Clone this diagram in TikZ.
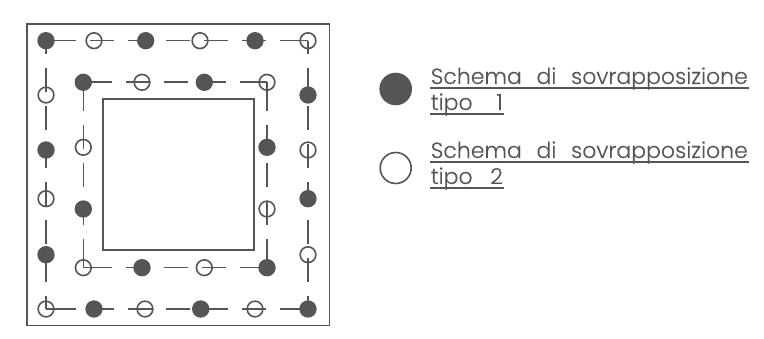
\documentclass[tikz,border=0pt]{standalone}
\usepackage{fontspec}
\setmainfont{Poppins}[UprightFont=*-Light,FakeBold=0.25]
\definecolor{tratto}{HTML}{555555}
\tikzset{
  tipouno/.style={circle,draw=tratto,fill=tratto,inner sep=0pt,minimum size=15.7pt},
  tipodue/.style={circle,draw=tratto,inner sep=0pt,minimum size=15.7pt},
  legendauno/.style={tipouno,minimum size=31pt},
  legendadue/.style={tipodue,minimum size=31pt},
  scritta/.style={anchor=base west,inner sep=0pt,text depth=3.2pt,text=tratto,font=\fontsize{22}{22}\selectfont},
  esternoh/.style={dash pattern=on 30pt off 14pt on 24pt off 14pt on 24pt off 14pt on 24pt off 14pt on 24pt off 14pt on 24pt off 14pt on 30pt off 14pt},
  esternov/.style={dash pattern=on 13.5pt off 14pt on 24pt off 14pt on 24pt off 14pt on 24pt off 14pt on 24pt off 14pt on 24pt off 14pt on 24pt off 14pt on 14pt off 14pt},
  interno/.style={dash pattern=on 29pt off 14pt on 24pt off 14pt on 24pt off 14pt on 24pt off 14pt on 30pt off 14pt}
}
\begin{document}
\begin{tikzpicture}[x=1pt,y=-1pt,line width=1.6pt,color=tratto]
  \useasboundingbox (0,0) rectangle (764,339);
  \draw (27,24) rectangle (329.5,325.5);
  \draw (102.7,99) rectangle (254,250);
  % anello esterno
  \draw
    (46,40.7) node[tipouno] (a0){}
    (94,40.7) node[tipodue] (a1){}
    (145.7,40.7) node[tipouno] (a2){}
    (200,40.7) node[tipodue] (a3){}
    (255,40.7) node[tipouno] (a4){}
    (308,40.7) node[tipodue] (a5){}
    (308,95) node[tipouno] (a6){}
    (308,150) node[tipodue] (a7){}
    (308,198.7) node[tipouno] (a8){}
    (308,254.7) node[tipodue] (a9){}
    (308,309) node[tipouno] (a10){}
    (255,309) node[tipodue] (a11){}
    (200.7,309) node[tipouno] (a12){}
    (145,309) node[tipodue] (a13){}
    (94,309) node[tipouno] (a14){}
    (46,309) node[tipodue] (a15){}
    (46,254.7) node[tipouno] (a16){}
    (46,198.7) node[tipodue] (a17){}
    (46,150) node[tipouno] (a18){}
    (46,95) node[tipodue] (a19){};
  % anello interno
  \draw
    (83.3,82.3) node[tipouno] (b0){}
    (142,82.3) node[tipodue] (b1){}
    (204.3,82.3) node[tipouno] (b2){}
    (267,82.3) node[tipodue] (b3){}
    (267,147.3) node[tipouno] (b4){}
    (267,209) node[tipodue] (b5){}
    (267,267.7) node[tipouno] (b6){}
    (204.3,267.7) node[tipodue] (b7){}
    (142,267.7) node[tipouno] (b8){}
    (83.3,267.7) node[tipodue] (b9){}
    (83.3,209) node[tipouno] (b10){}
    (83.3,147.3) node[tipodue] (b11){};
  \begin{scope}[-]
    \draw[esternoh] (a0.center) to (a5.center);
    \draw[esternoh] (a15.center) to (a10.center);
    \draw[esternov] (a0.center) to (a15.center);
    \draw[esternov] (a5.center) to (a10.center);
    \draw[interno] (b0.center) to (b3.center);
    \draw[interno] (b9.center) to (b6.center);
    \draw[interno] (b0.center) to (b9.center);
    \draw[interno] (b3.center) to (b6.center);
  \end{scope}
  % legenda
  \draw
    (395.7,89) node[legendauno] (l1){}
    (395.7,168) node[legendadue] (l2){};
  \draw
    (430,84) node[scritta] (s1){\makebox[317pt][s]{Schema\hfil di\hfil sovrapposizione}}
    (430,110) node[scritta] (t1){\makebox[72pt][s]{tipo\hfil 1}}
    (430,158) node[scritta] (s2){\makebox[317pt][s]{Schema\hfil di\hfil sovrapposizione}}
    (430,184) node[scritta] (t2){\makebox[72pt][s]{tipo\hfil 2}};
  \begin{scope}[-]
    \draw (s1.south west) to (s1.south east);
    \draw (t1.south west) to (t1.south east);
    \draw (s2.south west) to (s2.south east);
    \draw (t2.south west) to (t2.south east);
  \end{scope}
\end{tikzpicture}
\end{document}
